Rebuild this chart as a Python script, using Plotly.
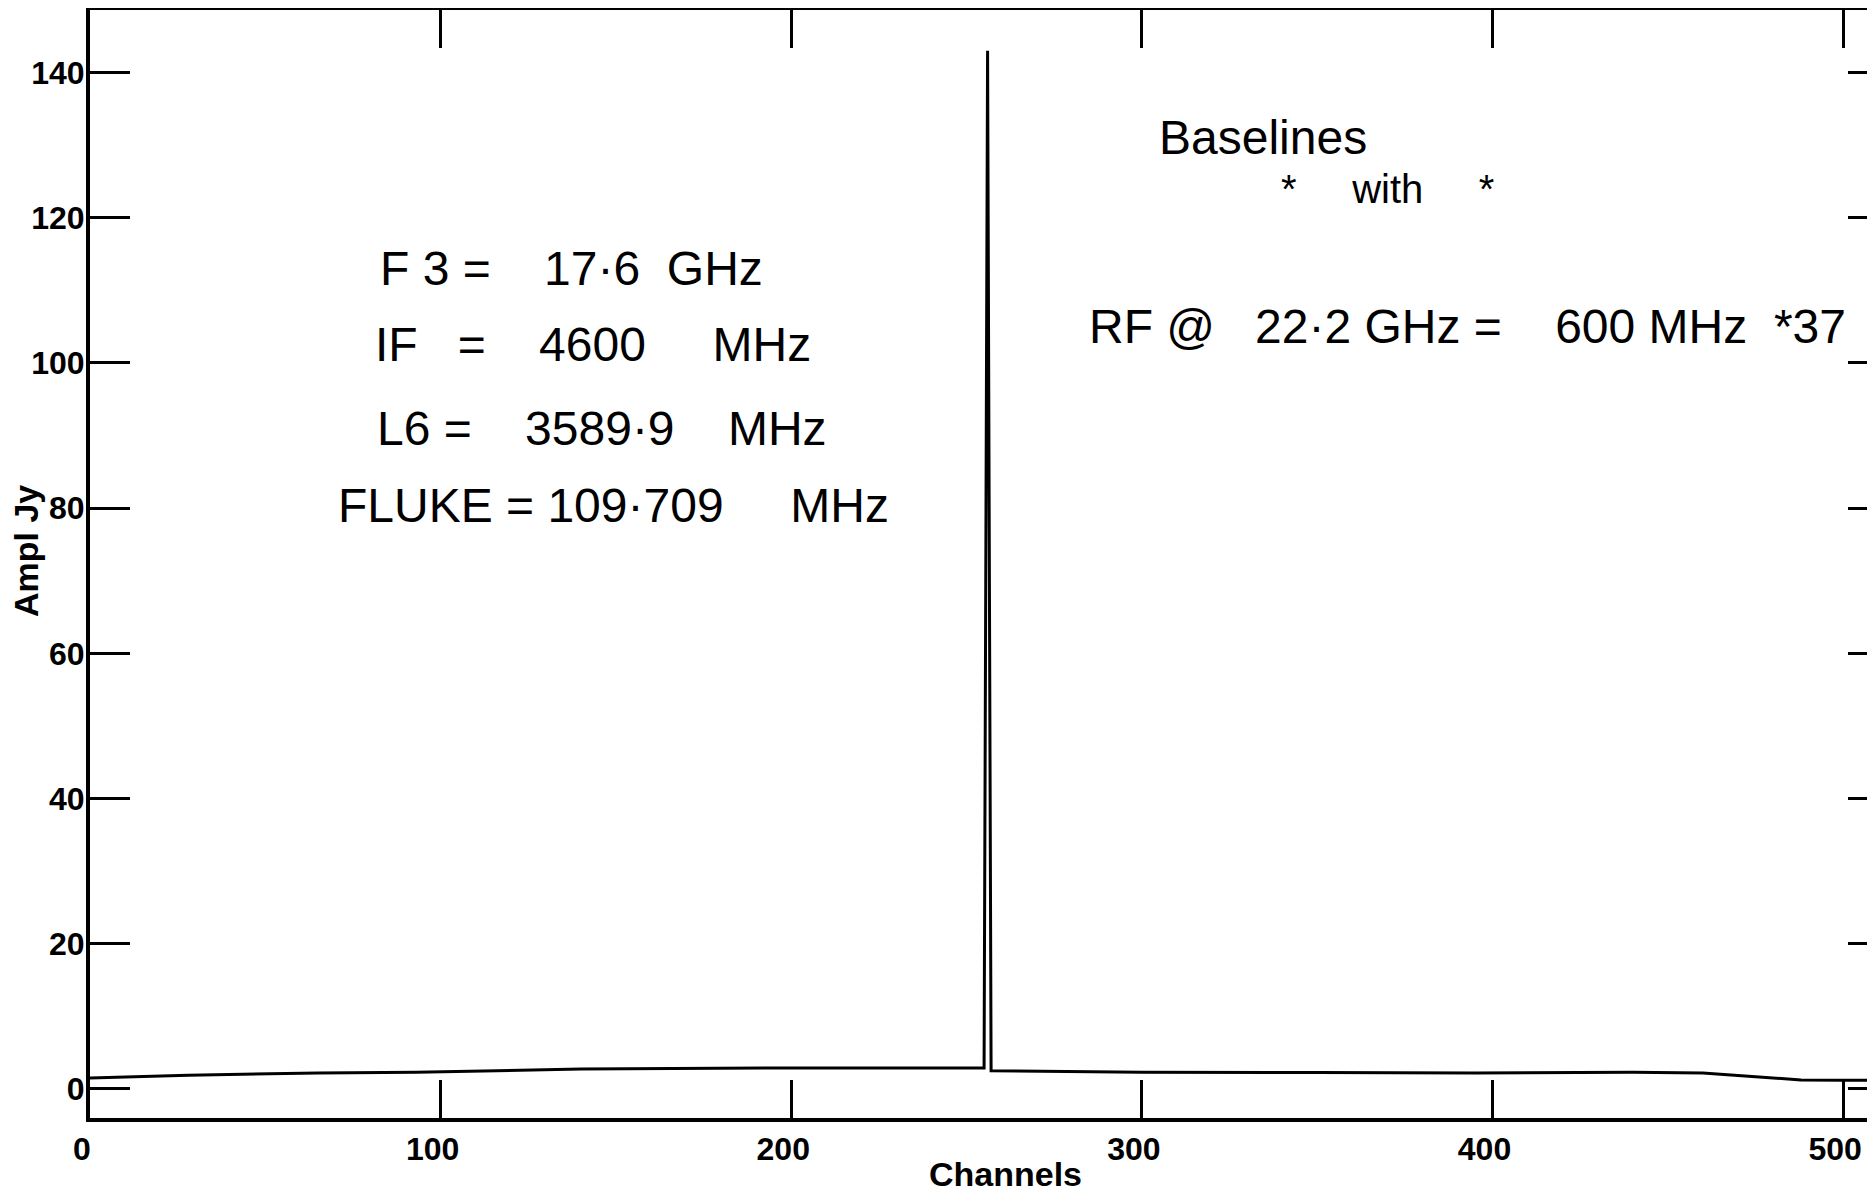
import plotly.graph_objects as go

# ---- data ----
channels = [0, 28, 65, 93, 140, 200, 255, 256, 257, 300, 350, 395, 440, 460, 476, 488, 500, 509]
ampl_jy = [1.5, 1.9, 2.2, 2.3, 2.75, 2.9, 2.9, 143.0, 2.5, 2.3, 2.25, 2.2, 2.3, 2.2, 1.65, 1.25, 1.2, 1.2]

x_ticks = [0, 100, 200, 300, 400, 500]
y_ticks = [0, 20, 40, 60, 80, 100, 120, 140]

x_range = [0, 509.1]
y_range = [-4.0, 148.6]

NB = "\u00a0"
notes_text = [
    f"F 3 ={NB}{NB}{NB} 17·6{NB} GHz",
    f"IF{NB}{NB} ={NB}{NB}{NB} 4600{NB}{NB}{NB}{NB} MHz",
    f"L6 ={NB}{NB}{NB} 3589·9{NB}{NB}{NB} MHz",
    f"FLUKE ={NB}109·709{NB}{NB}{NB}{NB} MHz",
    "Baselines",
    f"*{NB}{NB}{NB}{NB}{NB}with{NB}{NB}{NB}{NB}{NB}*",
    f"RF @{NB}{NB} 22·2 GHz ={NB}{NB}{NB} 600 MHz{NB} *37",
]
notes_x = [82.5, 81.0, 81.5, 70.5, 304.5, 339.5, 284.5]
notes_y = [113.0, 102.6, 91.0, 80.4, 131.1, 124.0, 105.0]
notes_size = [48, 48, 48, 48, 48, 40, 48]

fig = go.Figure()
fig.add_trace(go.Scatter(
    x=channels, y=ampl_jy, mode="lines",
    line=dict(color="black", width=3),
    showlegend=False, hoverinfo="skip",
))
# invisible companion trace so the right-hand tick axis is drawn
fig.add_trace(go.Scatter(
    x=channels, y=ampl_jy, mode="lines", yaxis="y2",
    line=dict(color="rgba(0,0,0,0)", width=0),
    showlegend=False, hoverinfo="skip",
))

tickfont = dict(family="Liberation Sans, Arial, sans-serif", size=32, color="black", weight="bold")

# page body has an 8px default margin, so the figure is sized to end at the window edge
fig.update_layout(
    width=1867, height=1186,
    margin=dict(l=82, r=0, t=2, b=76, autoexpand=False),
    paper_bgcolor="white", plot_bgcolor="white",
    xaxis=dict(
        range=x_range, tickvals=x_ticks, ticktext=[str(v) for v in x_ticks],
        ticks="inside", ticklen=38, tickwidth=3, tickcolor="black",
        showline=True, linewidth=4, linecolor="black", mirror="ticks",
        showgrid=False, zeroline=False, tickfont=tickfont,
        automargin=False, ticklabelshift=-8,
    ),
    yaxis=dict(
        range=y_range, tickvals=y_ticks, ticktext=[str(v) for v in y_ticks],
        ticks="inside", ticklen=40, tickwidth=3, tickcolor="black",
        showline=True, linewidth=4, linecolor="black", mirror=False,
        showgrid=False, zeroline=False, tickfont=tickfont,
        automargin=False, ticklabelstandoff=-5,
    ),
    yaxis2=dict(
        range=y_range, tickvals=y_ticks, overlaying="y", side="right",
        ticks="inside", ticklen=27, tickwidth=3, tickcolor="black",
        showline=False, showticklabels=False, showgrid=False, zeroline=False,
        automargin=False,
    ),
)

for t, x, y, s in zip(notes_text, notes_x, notes_y, notes_size):
    fig.add_annotation(
        x=x, y=y, xref="x", yref="y", text=t, showarrow=False,
        xanchor="left", yanchor="middle", borderpad=0,
        font=dict(family="Liberation Sans, Arial, sans-serif", size=s, color="black"),
    )

titlefont = dict(family="Liberation Sans, Arial, sans-serif", size=34, color="black", weight="bold")
fig.add_annotation(
    x=0.513, y=0, xref="paper", yref="paper", text="Channels", showarrow=False,
    xanchor="center", yanchor="bottom", yshift=-76, borderpad=0, font=titlefont,
)
fig.add_annotation(
    x=0, y=0.5117, xref="paper", yref="paper", text="Ampl Jy", showarrow=False,
    xanchor="center", yanchor="middle", xshift=-64, textangle=-90, font=titlefont,
)

fig.write_html("out.html")
